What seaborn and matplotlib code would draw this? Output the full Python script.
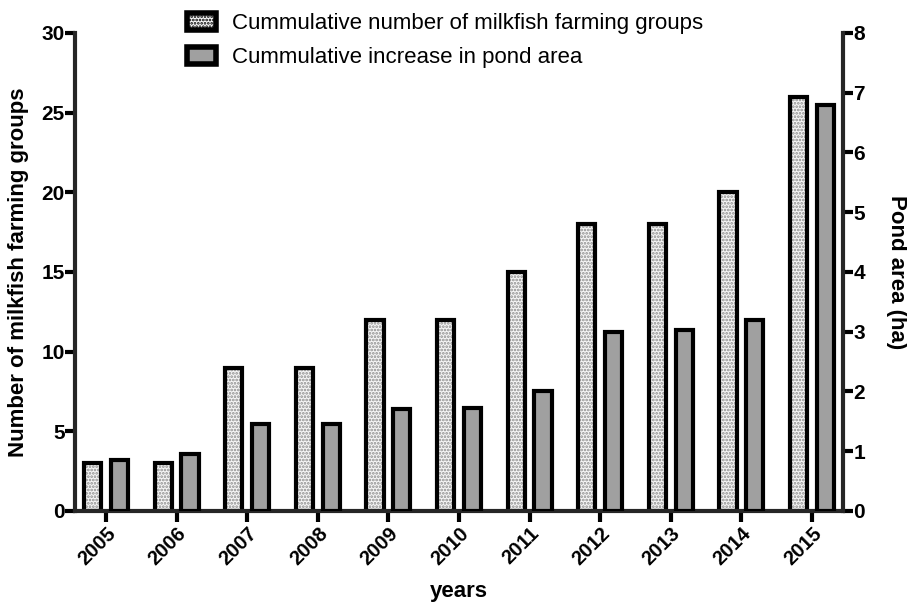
import numpy as np
import pandas as pd
import matplotlib
matplotlib.use("Agg")
import matplotlib.pyplot as plt
from matplotlib.patches import Patch
import seaborn as sns

years = [2005, 2006, 2007, 2008, 2009, 2010, 2011, 2012, 2013, 2014, 2015]
farming_groups = [3, 3, 9, 9, 12, 12, 15, 18, 18, 20, 26]
pond_area_ha = [0.85, 0.95, 1.45, 1.45, 1.7, 1.73, 2.0, 3.0, 3.03, 3.2, 6.8]

sns.set_theme(style="ticks")
plt.rcParams["font.family"] = ["Liberation Sans", "DejaVu Sans"]
plt.rcParams["hatch.linewidth"] = 1.3
for key in ("text.color", "axes.labelcolor", "xtick.color", "ytick.color"):
    plt.rcParams[key] = "black"

df = pd.DataFrame({"year": years, "groups": farming_groups, "area": pond_area_ha})
pos = np.arange(len(years))
off = 0.19
bw = 0.245
lw = 3.0

fig = plt.figure(figsize=(9.07, 6.05), dpi=100)
ax = fig.add_axes([0.0827, 0.1554, 0.8467, 0.7901])
ax2 = ax.twinx()

# stippled bars: groups on the left axis
sns.barplot(x=pos - off, y=df["groups"], native_scale=True, width=bw, ax=ax,
            color="#f6f6f6", saturation=1, linewidth=0, edgecolor="#8c8c8c",
            hatch=".....", errorbar=None)
sns.barplot(x=pos - off, y=df["groups"], native_scale=True, width=bw, ax=ax,
            fill=False, linewidth=lw, edgecolor="black", errorbar=None)

# gray bars: pond area on the right axis
sns.barplot(x=pos + off, y=df["area"], native_scale=True, width=bw, ax=ax2,
            color="#a0a0a0", saturation=1, linewidth=lw, edgecolor="black",
            errorbar=None)

ax.set_xlim(-0.44, len(years) - 1 + 0.44)
ax.set_ylim(0, 30)
ax2.set_ylim(0, 8)
ax.set_yticks(range(0, 31, 5))
ax2.set_yticks(range(0, 9))
ax.set_xticks(pos)
ax.set_xticklabels([str(y) for y in years], rotation=45, ha="right",
                   rotation_mode="anchor", fontweight="bold", fontsize=14.5)
for a in (ax, ax2):
    for lab in a.get_yticklabels():
        lab.set_fontweight("bold")
        lab.set_fontsize(15)

ax.set_xlabel("years", fontsize=16, fontweight="bold", labelpad=9)
ax.set_ylabel("Number of milkfish farming groups", fontsize=16, fontweight="bold", labelpad=9)
ax2.set_ylabel("Pond area (ha)", fontsize=16, fontweight="bold", rotation=270, labelpad=30)

for a in (ax, ax2):
    a.spines["top"].set_visible(False)
    for s in ("left", "right", "bottom"):
        a.spines[s].set_linewidth(3.0)
    a.tick_params(axis="y", width=3.0, length=7, direction="out", pad=0.5)
ax.tick_params(axis="x", width=3.0, length=8, direction="out", pad=1)
ax.spines["right"].set_visible(False)
ax2.spines["left"].set_visible(False)
ax2.spines["bottom"].set_visible(False)

handles = [
    Patch(facecolor="#f6f6f6", edgecolor="black", hatch=".....", linewidth=4,
          label="Cummulative number of milkfish farming groups"),
    Patch(facecolor="#a0a0a0", edgecolor="black", linewidth=4,
          label="Cummulative increase in pond area"),
]
fig.legend(handles=handles, loc="upper left", bbox_to_anchor=(0.184, 1.012),
           frameon=False, fontsize=16, handlelength=1.3, handleheight=0.85,
           labelspacing=0.55, handletextpad=0.75)

fig.savefig("out.png", dpi=100)
